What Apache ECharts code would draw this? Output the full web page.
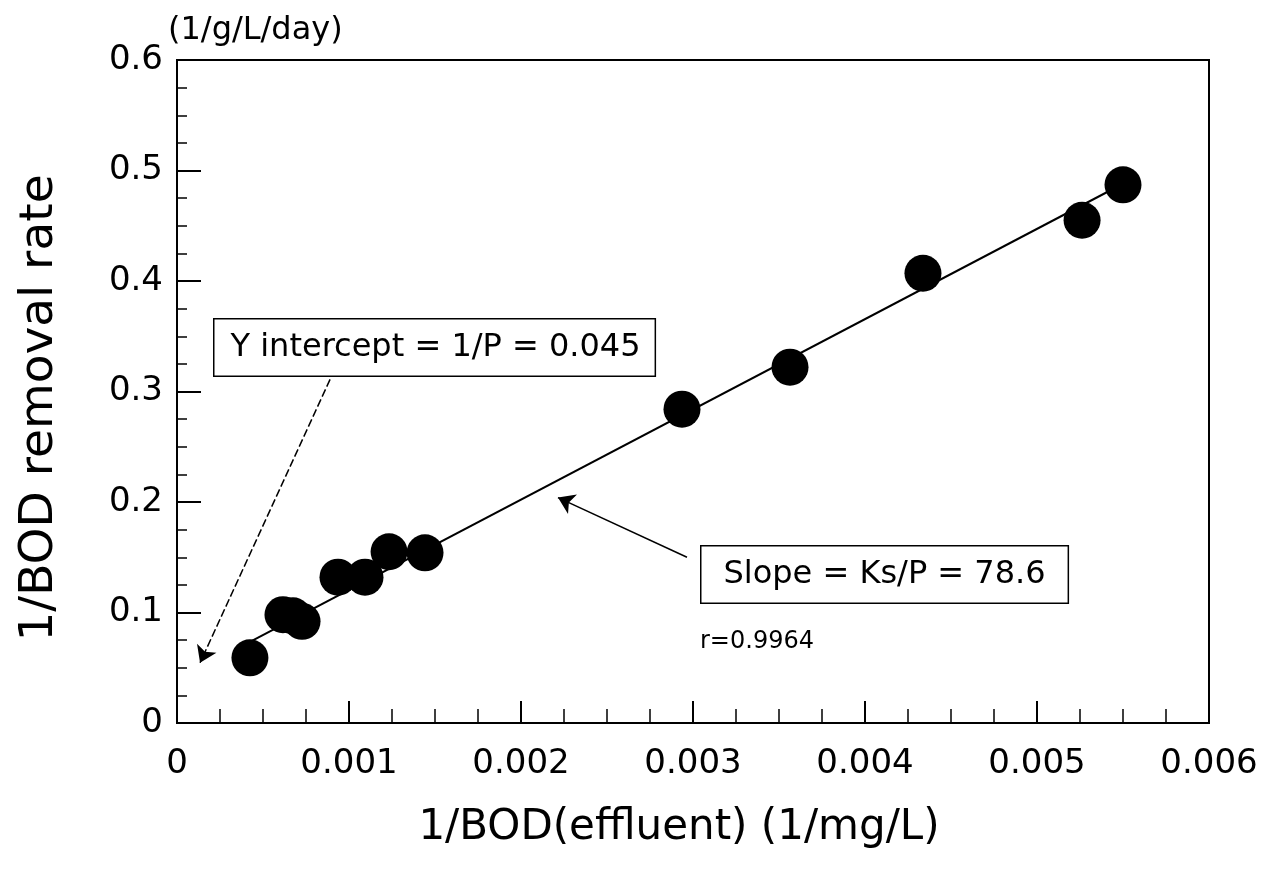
<!DOCTYPE html>
<html>
<head>
<meta charset="utf-8">
<script src="https://cdn.jsdelivr.net/npm/echarts/dist/echarts.min.js"></script>
<style>
  html, body { margin: 0; padding: 0; background: #fff; }
  #chart { width: 1267px; height: 869px; }
</style>
</head>
<body>
<div id="chart"></div>
<script>
// ---- data ----
const xValues = [0.000424, 0.000616, 0.000674, 0.000727, 0.000936, 0.001093, 0.001233, 0.001442, 0.002936, 0.003564, 0.004337, 0.005262, 0.0055];
const yValues = [0.059, 0.098, 0.097, 0.092, 0.132, 0.132, 0.155, 0.154, 0.284, 0.322, 0.407, 0.455, 0.487];
const fitLineX = [0.000413, 0.0055];
const fitLineY = [0.0726, 0.488];
const xTicks = [0, 0.001, 0.002, 0.003, 0.004, 0.005, 0.006];
const yTicks = [0, 0.1, 0.2, 0.3, 0.4, 0.5, 0.6];
const interceptArrow = [[0.00089, 0.311], [0.000134, 0.0545]];
const slopeArrow = [[0.002965, 0.150], [0.002215, 0.204]];
const interceptText = 'Y intercept = 1/P = 0.045';
const slopeText = 'Slope = Ks/P = 78.6';
const rText = 'r=0.9964';
const xTitle = '1/BOD(effluent) (1/mg/L)';
const yTitle = '1/BOD removal rate';
const yUnit = '(1/g/L/day)';

const FONT = '"DejaVu Sans", "Liberation Sans", sans-serif';
const chart = echarts.init(document.getElementById('chart'), null, { renderer: 'canvas' });

const points = xValues.map((x, i) => [x, yValues[i]]);
const fitLine = fitLineX.map((x, i) => [x, fitLineY[i]]);

const option = {
  backgroundColor: '#ffffff',
  animation: false,
  grid: {
    left: 177, top: 60, width: 1032, height: 663,
    show: true, borderColor: '#000', borderWidth: 2, backgroundColor: 'transparent'
  },
  xAxis: {
    type: 'value',
    min: xTicks[0], max: xTicks[xTicks.length - 1], interval: 0.001,
    name: xTitle, nameLocation: 'middle', nameGap: 84,
    nameTextStyle: { fontFamily: FONT, fontSize: 42, color: '#000', padding: [0, 28, 0, 0] },
    axisLine: { show: true, lineStyle: { color: '#000', width: 2 } },
    axisTick: { show: true, inside: true, length: 22, lineStyle: { color: '#000', width: 2 } },
    minorTick: { show: true, splitNumber: 4, length: 14, lineStyle: { color: '#000', width: 1.5 } },
    splitLine: { show: false },
    axisLabel: {
      fontFamily: FONT, fontSize: 34, color: '#000', margin: 24,
      formatter: v => (v === 0 ? '0' : v.toFixed(3))
    }
  },
  yAxis: {
    type: 'value',
    min: yTicks[0], max: yTicks[yTicks.length - 1], interval: 0.1,
    axisLine: { show: true, lineStyle: { color: '#000', width: 2 } },
    axisTick: { show: true, inside: true, length: 24, lineStyle: { color: '#000', width: 2 } },
    minorTick: { show: true, splitNumber: 4, length: 10, lineStyle: { color: '#000', width: 1.5 } },
    splitLine: { show: false },
    axisLabel: {
      fontFamily: FONT, fontSize: 34, color: '#000', margin: 14,
      formatter: v => (v === 0 ? '0' : v.toFixed(1))
    }
  },
  series: [
    {
      type: 'line',
      data: fitLine,
      showSymbol: false,
      symbol: 'none',
      lineStyle: { color: '#000', width: 2 },
      z: 2,
      markLine: {
        silent: true,
        symbol: ['none', 'arrow'],
        symbolSize: 16,
        label: { show: false },
        data: [
          [{ coord: interceptArrow[0], lineStyle: { color: '#000', width: 1.5, type: [8, 3] } },
           { coord: interceptArrow[1] }],
          [{ coord: slopeArrow[0], lineStyle: { color: '#000', width: 1.5, type: 'solid' } },
           { coord: slopeArrow[1] }]
        ]
      }
    },
    {
      type: 'scatter',
      data: points,
      symbol: 'circle',
      symbolSize: 37,
      itemStyle: { color: '#000', opacity: 1 },
      z: 3
    }
  ],
  graphic: [
    {
      type: 'text', left: 168, top: 15,
      style: { text: yUnit, font: '32px ' + FONT, fill: '#000' }
    },
    {
      type: 'text',
      x: 40, y: 408,
      rotation: Math.PI / 2,
      style: { text: yTitle, font: '47px ' + FONT, fill: '#000', align: 'center', verticalAlign: 'middle' }
    },
    {
      type: 'text', left: 213, top: 318, z: 10,
      style: {
        text: interceptText, font: '32px ' + FONT, fill: '#000',
        backgroundColor: '#fff', borderColor: '#000', borderWidth: 1.5,
        padding: [12, 14, 12, 16]
      }
    },
    {
      type: 'text', left: 700, top: 545, z: 10,
      style: {
        text: slopeText, font: '32px ' + FONT, fill: '#000',
        backgroundColor: '#fff', borderColor: '#000', borderWidth: 1.5,
        padding: [12, 22, 12, 22]
      }
    },
    {
      type: 'text', left: 700, top: 630,
      style: { text: rText, font: '24px ' + FONT, fill: '#000' }
    }
  ]
};
chart.setOption(option);
</script>
</body>
</html>
